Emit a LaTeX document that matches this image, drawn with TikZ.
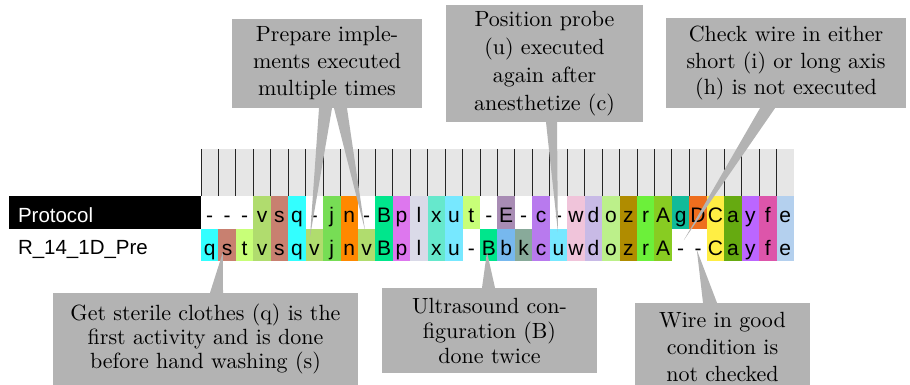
\documentclass[tikz,border=0pt]{standalone}
\usepackage{fontspec}
\newfontfamily\cellfont{Liberation Sans}
\newfontfamily\calloutfont{lmroman10-regular.otf}
\usetikzlibrary{positioning}
% activity colours
\definecolor{boxgrey}{RGB}{179,179,179}
\definecolor{headgrey}{RGB}{230,230,230}
\definecolor{actq}{RGB}{51,255,255}
\definecolor{acts}{RGB}{200,128,112}
\definecolor{actt}{RGB}{200,255,120}
\definecolor{actv}{RGB}{176,220,110}
\definecolor{actj}{RGB}{119,221,85}
\definecolor{actn}{RGB}{255,136,0}
\definecolor{actcapB}{RGB}{0,230,140}
\definecolor{actp}{RGB}{221,119,238}
\definecolor{actl}{RGB}{218,218,232}
\definecolor{actx}{RGB}{102,232,204}
\definecolor{actu}{RGB}{119,232,255}
\definecolor{actcapE}{RGB}{168,140,180}
\definecolor{actc}{RGB}{184,122,238}
\definecolor{actw}{RGB}{240,196,218}
\definecolor{actd}{RGB}{200,186,230}
\definecolor{acto}{RGB}{188,240,138}
\definecolor{actz}{RGB}{176,140,0}
\definecolor{actr}{RGB}{108,240,58}
\definecolor{actcapA}{RGB}{136,204,34}
\definecolor{actg}{RGB}{17,187,153}
\definecolor{actcapD}{RGB}{238,110,30}
\definecolor{actcapC}{RGB}{255,238,68}
\definecolor{acta}{RGB}{102,170,17}
\definecolor{acty}{RGB}{187,102,255}
\definecolor{actf}{RGB}{221,85,170}
\definecolor{acte}{RGB}{180,208,238}
\definecolor{actb}{RGB}{119,184,238}
\definecolor{actk}{RGB}{136,170,154}
\tikzset{callout/.style={
    % The shape:
    rectangle,
    inner sep=0pt,
    % The filling:
    fill=boxgrey,
    % Font
    align=center,
    font=\calloutfont\fontsize{22}{27}\selectfont
    },
    pointer/.style={
    fill=boxgrey,
    },
    cell/.style={
    rectangle,
    inner sep=0pt,
    minimum width=17.44pt,
    minimum height=32.5pt,
    text height=24pt,
    text depth=3pt,
    font=\cellfont\fontsize{21}{21}\selectfont,
    },
    tracelabel/.style={
    rectangle,
    inner xsep=9pt,
    inner ysep=0pt,
    text width=174pt,
    minimum height=32.5pt,
    text height=23pt,
    text depth=3pt,
    align=left,
    font=\cellfont\fontsize{20.5}{20.5}\selectfont,
    },
}

\begin{document}
\begin{tikzpicture}[x=1pt,y=-1pt]
    \useasboundingbox (0,0) rectangle (910,385);
    % header
    \fill[headgrey] (201,149) rectangle (794,196);
    \foreach \k in {0,...,33}
        \draw[line width=0.9pt,black!85] ({201+17.44*\k},149) -- ({201+17.44*\k},196);
    \draw[line width=0.9pt,black!85] (201,196) -- (794,196);
    % rows
    \node (proto) [tracelabel,fill=black,text=white] at (105,212.25) {Protocol};
    \node (trace) [tracelabel] at (105,244.75) {R\_14\_1D\_Pre};
    \foreach \lt/\cl [count=\i] in {-/white,-/white,-/white,v/actv,s/acts,q/actq,-/white,j/actj,n/actn,-/white,B/actcapB,p/actp,l/actl,x/actx,u/actu,t/actt,-/white,E/actcapE,-/white,c/actc,-/white,w/actw,d/actd,o/acto,z/actz,r/actr,A/actcapA,g/actg,D/actcapD,C/actcapC,a/acta,y/acty,f/actf,e/acte}
        \node (p\i) [cell,fill=\cl] at ({192.28+17.44*\i},212.25) {\lt};
    \foreach \lt/\cl [count=\i] in {q/actq,s/acts,t/actt,v/actv,s/acts,q/actq,v/actv,j/actj,n/actn,v/actv,B/actcapB,p/actp,l/actl,x/actx,u/actu,-/white,B/actcapB,b/actb,k/actk,c/actc,u/actu,w/actw,d/actd,o/acto,z/actz,r/actr,A/actcapA,-/white,-/white,C/actcapC,a/acta,y/acty,f/actf,e/acte}
        \node (r\i) [cell,fill=\cl] at ({192.28+17.44*\i},244.75) {\lt};
    % callouts
    \node (prepare)  [callout,minimum width=190pt,minimum height=89pt] at (327,63.5)
        {Prepare imple-\\ments executed\\multiple times};
    \node (position) [callout,minimum width=197pt,minimum height=117pt,
        font=\calloutfont\fontsize{22}{28}\selectfont] at (544.5,63.5)
        {Position probe\\(u) executed\\again after\\anesthetize (c)};
    \node (checkwire) [callout,minimum width=240pt,minimum height=90pt,
        font=\calloutfont\fontsize{22}{26.5}\selectfont] at (786,63)
        {Check wire in either\\short (i) or long axis\\(h) is not executed};
    \node (sterile)  [callout,minimum width=305pt,minimum height=92pt,
        font=\calloutfont\fontsize{22}{24}\selectfont] at (205.5,339)
        {Get sterile clothes (q) is the\\first activity and is done\\before hand washing (s)};
    \node (ultrasound) [callout,minimum width=215pt,minimum height=85pt,
        font=\calloutfont\fontsize{22}{25}\selectfont] at (489.5,330.5)
        {Ultrasound con-\\figuration (B)\\done twice};
    \node (wiregood) [callout,minimum width=175pt,minimum height=88pt,
        font=\calloutfont\fontsize{22}{27}\selectfont] at (722.5,347)
        {Wire in good\\condition is\\not checked};
    % pointers
    \fill[pointer] ([xshift=-8pt]prepare.south) -- ([xshift=5pt]prepare.south)
        -- ([xshift=-4.4pt,yshift=7.75pt]r7.center) -- cycle;
    \fill[pointer] ([xshift=7pt]prepare.south) -- ([xshift=20pt]prepare.south)
        -- ([xshift=-1.7pt,yshift=14.75pt]r10.center) -- cycle;
    \fill[pointer] ([xshift=1.5pt]position.south) -- ([xshift=12.5pt]position.south)
        -- ([xshift=-0.6pt,yshift=12.75pt]r21.center) -- cycle;
    \fill[pointer] ([xshift=-26pt]checkwire.south) -- ([xshift=-11pt]checkwire.south)
        -- ([xshift=3.3pt,yshift=4.75pt]r28.center) -- cycle;
    \fill[pointer] ([xshift=4.5pt]sterile.north) -- ([xshift=17.5pt]sterile.north)
        -- ([xshift=-4.2pt,yshift=-7.25pt]r2.center) -- cycle;
    \fill[pointer] ([xshift=-7.5pt]ultrasound.north) -- ([xshift=5.5pt]ultrasound.north)
        -- ([xshift=-1.8pt,yshift=-7.25pt]r17.center) -- cycle;
    \fill[pointer] ([xshift=-19.5pt]wiregood.north) -- ([xshift=-5.5pt]wiregood.north)
        -- ([xshift=-1.2pt,yshift=-5.25pt]r29.center) -- cycle;
\end{tikzpicture}
\end{document}
